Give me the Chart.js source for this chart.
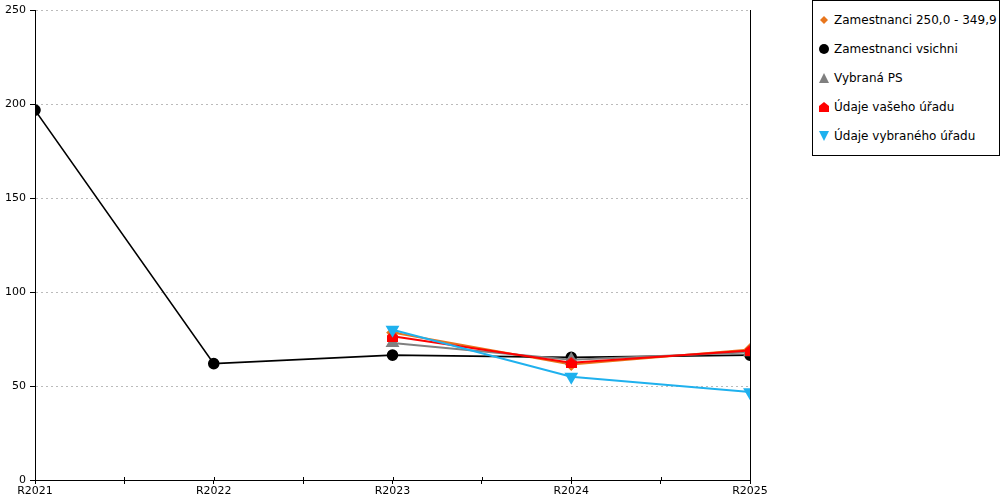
<!DOCTYPE html>
<html>
<head>
<meta charset="utf-8">
<script src="https://cdn.jsdelivr.net/npm/chart.js@4/dist/chart.umd.min.js"></script>
<style>
  html,body{margin:0;padding:0;background:#fff;}
  #wrap{position:relative;width:1000px;height:500px;}
  #legend{position:absolute;left:812px;top:0;width:186px;height:154px;border:1px solid #000;background:#fff;
    font-family:"DejaVu Sans",Verdana,sans-serif;font-size:12px;color:#000;}
  #legend .it{position:absolute;left:6px;height:14px;line-height:14px;white-space:nowrap;}
  #legend svg{vertical-align:-1px;margin-right:5px;}
</style>
</head>
<body>
<div id="wrap">
  <canvas id="mainChart" width="1000" height="500"></canvas>
  <div id="legend"></div>
</div>
<script>
// data
const categories = ['R2021','R2022','R2023','R2024','R2025'];
const zam250 = [null, null, 78.5, 61.5, 69.5];
const zamAll = [197, 62, 66.5, 65.3, 66.5];
const vybranaPS = [null, null, 73, 64, 68];
const vasUrad = [null, null, 76.5, 62.5, 69];
const vybUrad = [null, null, 80, 55, 46.8];
const yTicks = [0, 50, 100, 150, 200, 250];

const seriesNames = ['Zamestnanci 250,0 - 349,9','Zamestnanci vsichni','Vybraná PS','Údaje vašeho úřadu','Údaje vybraného úřadu'];
const colors = ['#e8761d','#000000','#808080','#ff0000','#1fb1ee'];

// pentagon ("house") marker for red series
function house(size, color){
  const c = document.createElement('canvas');
  c.width = size; c.height = size;
  const g = c.getContext('2d');
  g.fillStyle = color;
  g.beginPath();
  g.moveTo(size/2, 0);
  g.lineTo(size, size*0.42);
  g.lineTo(size, size);
  g.lineTo(0, size);
  g.lineTo(0, size*0.42);
  g.closePath();
  g.fill();
  return c;
}

const pts = arr => arr.map((v,i)=>({x:i, y:v}));

function ds(i, data, style, radius, rot, order, lw){
  return {label:seriesNames[i], data:pts(data), borderColor:colors[i], backgroundColor:colors[i],
    pointBackgroundColor:colors[i], pointBorderColor:colors[i], pointStyle:style, pointRadius:radius,
    pointRotation:rot||0, borderWidth:lw||2, tension:0, spanGaps:false, order:order};
}

// x ticks cross the axis line a little, like the original
const crossTicks = {
  id:'crossTicks',
  afterDraw(chart){
    const s = chart.scales.x, c = chart.ctx, y = chart.chartArea.bottom;
    c.save(); c.strokeStyle = '#000'; c.lineWidth = 1;
    s.ticks.forEach(t=>{
      const x = Math.round(s.getPixelForValue(t.value)) + 0.5;
      c.beginPath(); c.moveTo(x, y - 3); c.lineTo(x, y); c.stroke();
    });
    c.restore();
  }
};

document.addEventListener('DOMContentLoaded', ()=>{
  Chart.defaults.font.family = '"DejaVu Sans", Verdana, sans-serif';
  Chart.defaults.font.size = 11;
  Chart.defaults.color = '#000';

  const ctx = document.getElementById('mainChart');
  new Chart(ctx,{
    type:'line',
    data:{
      datasets:[
        ds(0, zam250, 'rectRot', 5, 0, 5),
        ds(1, zamAll, 'circle', 5, 0, 4, 1.6),
        ds(2, vybranaPS, 'triangle', 6, 0, 3),
        ds(3, vasUrad, house(11, colors[3]), 6, 0, 2),
        ds(4, vybUrad, 'triangle', 6, 180, 1)
      ]
    },
    options:{
      responsive:false, animation:false, devicePixelRatio:1,
      layout:{padding:{top:10, right:250, bottom:0, left:0}},
      plugins:{legend:{display:false}, tooltip:{enabled:false}},
      scales:{
        x:{type:'linear', min:0, max:categories.length-1,
          afterFit: s => { s.height = 20; },
          afterBuildTicks: s => { s.ticks = []; for(let v=0; v<=categories.length-1; v+=0.5) s.ticks.push({value:v}); },
          ticks:{autoSkip:false, maxRotation:0, padding:1,
            callback: v => Number.isInteger(v) ? categories[v] : ''},
          grid:{drawOnChartArea:false, drawTicks:true, tickLength:4, tickColor:'#000'},
          border:{color:'#000', width:1}
        },
        y:{min:0, max:250,
          afterFit: s => { s.width = 35; },
          afterBuildTicks: s => { s.ticks = yTicks.map(v=>({value:v})); },
          ticks:{padding:4},
          grid:{color:'#bbbbbb', lineWidth:1, tickLength:5, tickColor:'#000', tickBorderDash:[]},
          border:{color:'#000', width:1, dash:[2,3]}
        },
        y2:{position:'right', min:0, max:250,
          afterFit: s => { s.width = 0; },
          ticks:{display:false},
          grid:{display:false},
          border:{display:true, color:'#000', width:1}
        }
      }
    },
    plugins:[crossTicks]
  });

  // html legend
  const shapes = [
    c => `<polygon points="5,1 9,5 5,9 1,5" fill="${c}"/>`,
    c => `<circle cx="5" cy="5" r="5" fill="${c}"/>`,
    c => `<polygon points="5,0 10,10 0,10" fill="${c}"/>`,
    c => `<polygon points="5,0 10,4 10,10 0,10 0,4" fill="${c}"/>`,
    c => `<polygon points="0,0 10,0 5,10" fill="${c}"/>`
  ];
  const lg = document.getElementById('legend');
  seriesNames.forEach((name,i)=>{
    const d = document.createElement('div');
    d.className = 'it';
    d.style.top = (12 + i*29) + 'px';
    d.innerHTML = `<svg width="10" height="10">${shapes[i](colors[i])}</svg>${name}`;
    lg.appendChild(d);
  });
});
</script>
</body>
</html>
